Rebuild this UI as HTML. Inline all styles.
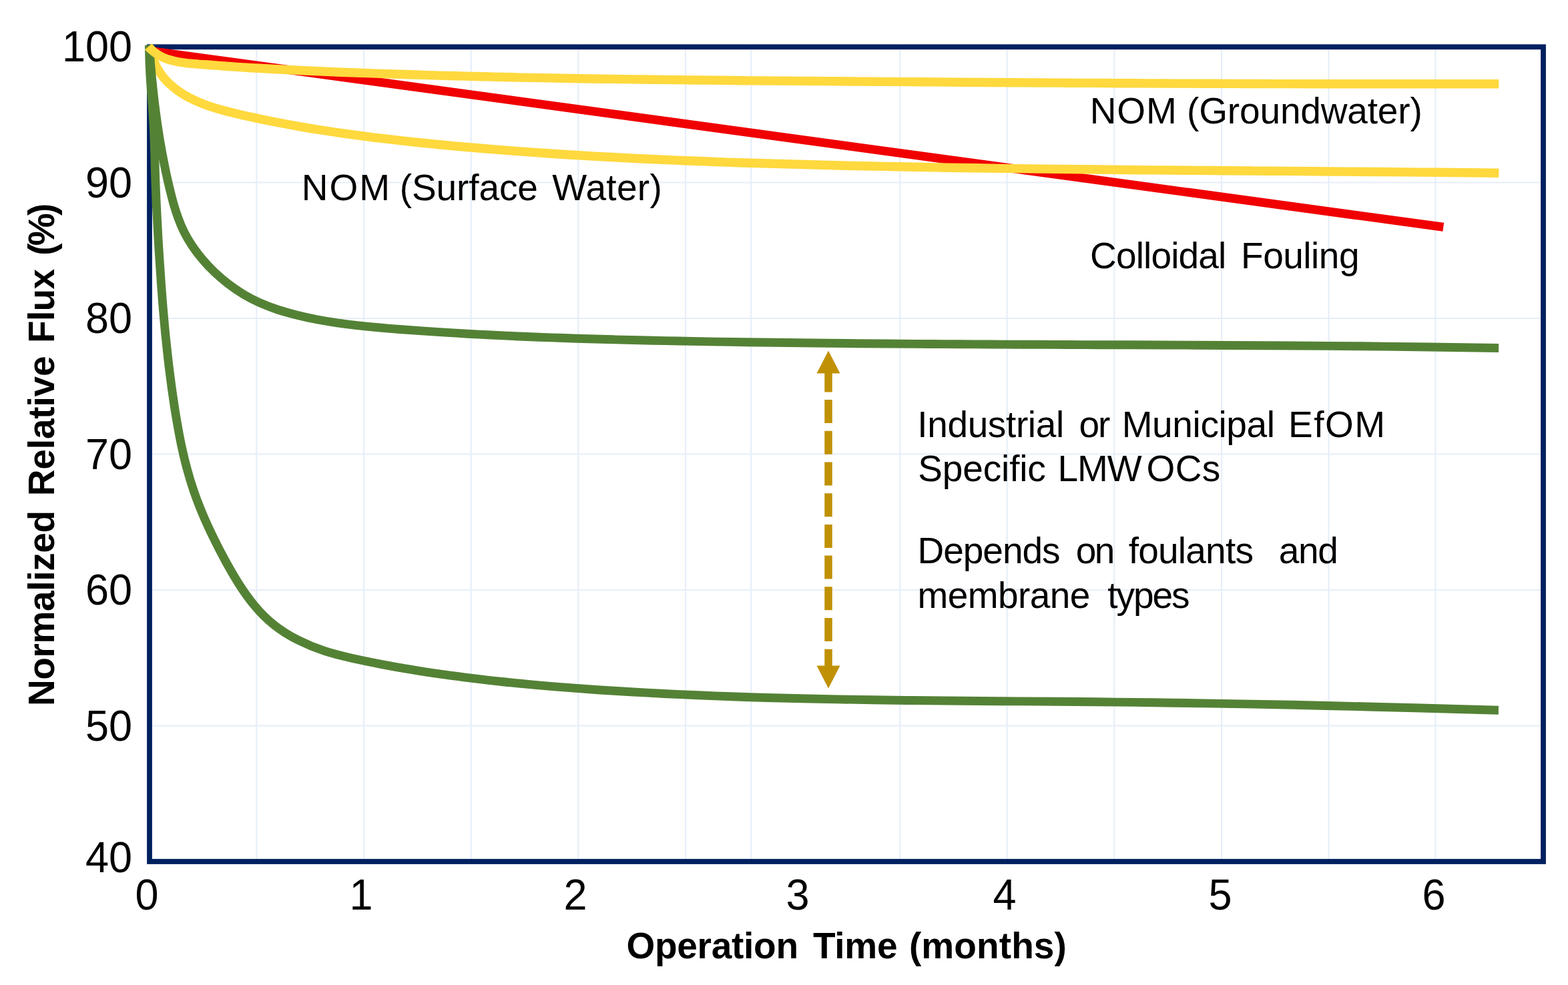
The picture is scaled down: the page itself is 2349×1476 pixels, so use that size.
<!DOCTYPE html>
<html lang="en">
<head>
<meta charset="utf-8">
<title>Normalized Relative Flux vs Operation Time</title>
<style>
html,body{margin:0;padding:0;background:#ffffff;}
body{width:2349px;height:1476px;overflow:hidden;}
svg{display:block;}
text{white-space:pre;}
</style>
</head>
<body>
<svg xmlns="http://www.w3.org/2000/svg" width="2349" height="1476" viewBox="0 0 2349 1476">
<rect width="2349" height="1476" fill="#ffffff"/>
<g stroke="#e6eef9" stroke-width="2.2" fill="none">
<line x1="384.3" y1="70" x2="384.3" y2="1291"/>
<line x1="545.0" y1="70" x2="545.0" y2="1291"/>
<line x1="705.6" y1="70" x2="705.6" y2="1291"/>
<line x1="866.3" y1="70" x2="866.3" y2="1291"/>
<line x1="1027.0" y1="70" x2="1027.0" y2="1291"/>
<line x1="1125.2" y1="70" x2="1125.2" y2="1291"/>
<line x1="1348.3" y1="70" x2="1348.3" y2="1291"/>
<line x1="1508.6" y1="70" x2="1508.6" y2="1291"/>
<line x1="1669.3" y1="70" x2="1669.3" y2="1291"/>
<line x1="1830.0" y1="70" x2="1830.0" y2="1291"/>
<line x1="1990.5" y1="70" x2="1990.5" y2="1291"/>
<line x1="2150.4" y1="70" x2="2150.4" y2="1291"/>
<line x1="224" y1="273.5" x2="2312" y2="273.5"/>
<line x1="224" y1="477.0" x2="2312" y2="477.0"/>
<line x1="224" y1="680.5" x2="2312" y2="680.5"/>
<line x1="224" y1="884.0" x2="2312" y2="884.0"/>
<line x1="224" y1="1087.5" x2="2312" y2="1087.5"/>
</g>
<rect x="224" y="70.3" width="2088" height="1220.7" fill="none" stroke="#002060" stroke-width="7.8"/>
<line x1="225.0" y1="76.3" x2="2162.3" y2="340.3" stroke="#f00000" stroke-width="13"/>
<path d="M224.6,69.4C224.7,70.2 224.9,71.0 225.0,71.7C225.3,73.3 225.6,74.9 225.9,76.4C226.4,78.5 226.9,80.6 227.5,82.7C228.3,85.3 229.1,87.8 230.1,90.2C231.1,93.1 232.4,95.9 233.7,98.6C235.2,101.7 236.9,104.7 238.8,107.6C240.8,110.8 243.1,113.8 245.5,116.7C248.1,119.9 251.0,122.9 254.0,125.7C257.3,128.7 260.8,131.6 264.4,134.3C268.2,137.1 272.2,139.7 276.2,142.2C280.6,144.8 285.0,147.1 289.5,149.3C294.3,151.6 299.1,153.7 304.1,155.6C309.2,157.7 314.5,159.5 319.9,161.2C325.4,163.0 331.1,164.6 336.8,166.1C342.7,167.7 348.7,169.1 354.7,170.5C361.0,172.0 367.2,173.4 373.5,174.8C380.0,176.2 386.5,177.6 393.0,179.0C399.8,180.4 406.5,181.7 413.3,183.0C420.3,184.4 427.3,185.7 434.3,187.0C441.5,188.3 448.7,189.6 455.9,190.8C463.4,192.1 470.8,193.3 478.3,194.5C486.0,195.7 493.7,196.9 501.4,198.0C509.3,199.2 517.2,200.3 525.1,201.4C533.2,202.5 541.3,203.6 549.4,204.6C557.8,205.7 566.1,206.7 574.5,207.7C583.0,208.7 591.6,209.7 600.1,210.7C608.9,211.6 617.6,212.6 626.4,213.5C635.3,214.4 644.3,215.3 653.3,216.2C662.4,217.1 671.6,217.9 680.7,218.8C690.1,219.6 699.5,220.4 708.8,221.2C718.4,222.1 727.9,222.9 737.5,223.6C747.2,224.4 756.9,225.2 766.7,225.9C776.6,226.7 786.5,227.4 796.5,228.1C806.6,228.9 816.7,229.5 826.8,230.2C837.1,230.9 847.4,231.6 857.7,232.2C868.2,232.8 878.7,233.5 889.1,234.1C899.8,234.7 910.5,235.3 921.1,235.8C932.0,236.4 942.8,237.0 953.6,237.5C964.7,238.0 975.7,238.5 986.7,239.0C997.9,239.5 1009.1,240.0 1020.2,240.5C1031.6,241.0 1043.0,241.4 1054.3,241.8C1065.8,242.3 1077.4,242.7 1088.9,243.1C1100.6,243.5 1112.3,243.9 1124.0,244.3C1135.9,244.6 1147.7,245.0 1159.6,245.3C1171.6,245.7 1183.6,246.0 1195.6,246.3C1207.8,246.7 1220.0,247.0 1232.2,247.3C1244.6,247.6 1256.9,247.9 1269.2,248.2C1281.8,248.5 1294.3,248.7 1306.8,249.0C1319.4,249.3 1332.1,249.5 1344.7,249.8C1357.6,250.0 1370.4,250.3 1383.2,250.5C1396.2,250.7 1409.1,251.0 1422.1,251.2C1435.2,251.4 1448.4,251.6 1461.5,251.8C1474.8,252.0 1488.0,252.2 1501.3,252.4C1514.7,252.5 1528.2,252.7 1541.6,252.9C1555.2,253.1 1568.8,253.2 1582.3,253.4C1596.1,253.5 1609.8,253.7 1623.5,253.8C1637.4,254.0 1651.3,254.1 1665.1,254.3C1679.2,254.4 1693.2,254.5 1707.2,254.7C1721.4,254.8 1735.5,254.9 1749.7,255.0C1764.0,255.2 1778.3,255.3 1792.7,255.4C1807.1,255.5 1821.6,255.6 1836.0,255.7C1850.6,255.9 1865.2,256.0 1879.8,256.1C1894.6,256.2 1909.3,256.3 1924.1,256.4C1938.9,256.5 1953.8,256.6 1968.7,256.8C1983.7,256.9 1998.8,257.0 2013.8,257.1C2028.9,257.2 2044.1,257.3 2059.3,257.5C2074.6,257.6 2089.9,257.7 2105.2,257.9C2120.6,258.0 2136.1,258.2 2151.5,258.3C2167.1,258.5 2182.7,258.6 2198.3,258.8C2214.0,258.9 2229.7,259.1 2245.4,259.3" fill="none" stroke="#ffd93d" stroke-width="13.4" stroke-linejoin="round"/>
<path d="M223.5,67.8C223.6,68.7 223.6,69.6 223.7,70.4C223.8,72.1 223.9,73.9 224.1,75.6C224.2,78.0 224.4,80.3 224.6,82.7C224.8,85.6 225.0,88.5 225.3,91.4C225.5,94.7 225.8,98.1 226.1,101.5C226.4,105.3 226.8,109.1 227.1,112.8C227.5,117.0 227.9,121.2 228.4,125.4C228.8,130.0 229.3,134.6 229.8,139.2C230.4,144.1 230.9,149.0 231.5,153.9C232.2,159.2 232.8,164.5 233.5,169.7C234.3,175.3 235.0,180.9 235.8,186.4C236.7,192.3 237.6,198.2 238.5,204.1C239.5,210.3 240.6,216.4 241.7,222.6C242.8,229.0 244.0,235.5 245.3,241.9C246.6,248.6 248.0,255.3 249.4,262.0C250.9,268.9 252.5,275.9 254.2,282.8C255.9,290.0 257.7,297.1 259.7,304.2C261.8,311.6 264.1,318.9 266.7,326.0C269.3,333.4 272.3,340.6 275.8,347.6C279.4,354.8 283.6,361.8 288.1,368.6C292.8,375.6 297.9,382.3 303.4,388.7C309.0,395.3 314.9,401.7 321.2,407.7C327.7,413.9 334.5,419.7 341.6,425.2C348.9,430.8 356.5,436.0 364.3,440.7C372.3,445.5 380.6,449.9 389.1,453.7C397.9,457.6 406.8,461.0 415.9,464.0C425.2,467.0 434.6,469.6 444.1,472.0C453.8,474.4 463.6,476.6 473.4,478.5C483.4,480.4 493.5,482.1 503.6,483.6C513.9,485.1 524.3,486.5 534.7,487.6C545.3,488.8 556.0,489.9 566.6,490.8C577.5,491.8 588.3,492.7 599.2,493.5C610.3,494.3 621.4,495.1 632.4,495.9C643.7,496.7 655.0,497.4 666.3,498.1C677.8,498.8 689.2,499.5 700.7,500.2C712.4,500.8 724.1,501.4 735.8,502.0C747.6,502.6 759.5,503.2 771.4,503.7C783.4,504.2 795.5,504.7 807.6,505.2C819.8,505.7 832.1,506.1 844.3,506.5C856.8,507.0 869.2,507.4 881.7,507.7C894.3,508.1 907.0,508.5 919.6,508.8C932.4,509.2 945.2,509.5 958.1,509.8C971.1,510.1 984.1,510.3 997.1,510.6C1010.3,510.9 1023.5,511.1 1036.7,511.4C1050.0,511.6 1063.4,511.9 1076.8,512.1C1090.3,512.3 1103.9,512.5 1117.4,512.7C1131.2,512.9 1144.9,513.1 1158.7,513.3C1172.6,513.5 1186.5,513.7 1200.4,513.8C1214.5,514.0 1228.6,514.1 1242.7,514.3C1256.9,514.4 1271.2,514.6 1285.5,514.7C1299.9,514.8 1314.3,514.9 1328.8,515.0C1343.4,515.2 1358.0,515.3 1372.6,515.4C1387.4,515.5 1402.1,515.6 1416.9,515.6C1431.9,515.7 1446.8,515.8 1461.8,515.9C1476.9,516.0 1492.0,516.0 1507.1,516.1C1522.4,516.2 1537.7,516.2 1553.0,516.3C1568.4,516.4 1583.9,516.4 1599.3,516.5C1614.9,516.6 1630.5,516.6 1646.1,516.7C1661.9,516.7 1677.7,516.8 1693.5,516.8C1709.4,516.9 1725.3,517.0 1741.3,517.0C1757.4,517.1 1773.5,517.2 1789.5,517.2C1805.8,517.3 1822.1,517.4 1838.3,517.5C1854.7,517.5 1871.1,517.6 1887.5,517.7C1904.1,517.8 1920.7,517.9 1937.2,518.0C1954.0,518.1 1970.7,518.3 1987.4,518.4C2004.3,518.5 2021.2,518.7 2038.0,518.8C2055.1,519.0 2072.1,519.2 2089.1,519.4C2106.3,519.5 2123.5,519.7 2140.6,520.0C2158.0,520.2 2175.3,520.4 2192.6,520.7C2210.1,520.9 2227.6,521.2 2245.1,521.5" fill="none" stroke="#548235" stroke-width="12.9" stroke-linejoin="round"/>
<path d="M223.7,67.8C223.7,68.8 223.7,69.9 223.7,70.9C223.7,73.0 223.7,75.1 223.7,77.1C223.7,80.0 223.7,82.8 223.8,85.7C223.9,89.2 224.0,92.6 224.1,96.1C224.3,100.2 224.5,104.2 224.7,108.2C224.9,112.8 225.2,117.4 225.5,121.9C225.8,127.0 226.2,132.0 226.5,137.0C226.9,142.5 227.4,148.0 227.8,153.5C228.2,159.4 228.7,165.3 229.1,171.3C229.5,177.6 229.9,183.9 230.3,190.2C230.6,197.0 230.9,203.7 231.1,210.4C231.4,217.5 231.6,224.6 231.8,231.7C232.0,239.2 232.1,246.7 232.3,254.2C232.6,262.0 232.8,269.8 233.1,277.6C233.4,285.8 233.8,294.0 234.1,302.1C234.5,310.6 234.9,319.1 235.4,327.6C235.8,336.5 236.3,345.3 236.8,354.1C237.4,363.2 237.9,372.4 238.5,381.5C239.1,390.9 239.7,400.4 240.4,409.8C241.0,419.6 241.7,429.3 242.5,439.0C243.2,449.1 244.0,459.1 244.9,469.1C245.8,479.4 246.7,489.7 247.7,500.0C248.8,510.6 249.9,521.2 251.1,531.7C252.3,542.6 253.6,553.4 255.0,564.2C256.4,575.4 257.9,586.4 259.6,597.5C261.2,608.9 263.0,620.2 265.0,631.5C267.0,643.1 269.1,654.7 271.5,666.2C274.0,677.9 276.7,689.6 279.8,701.2C282.9,713.1 286.5,724.8 290.5,736.4C294.5,748.2 299.1,759.8 304.0,771.4C309.0,783.1 314.4,794.7 320.0,806.2C325.7,817.9 331.7,829.5 337.9,840.9C344.3,852.5 350.9,864.0 358.0,875.3C365.3,886.7 373.1,897.8 381.8,908.2C390.6,918.8 400.3,928.5 411.1,936.8C422.0,945.4 433.9,952.7 446.4,959.1C459.1,965.5 472.4,971.0 486.0,975.4C499.8,979.9 513.8,983.3 528.0,986.5C542.3,989.6 556.6,992.6 571.0,995.3C585.7,998.1 600.3,1000.8 615.0,1003.2C629.9,1005.7 644.9,1008.0 659.9,1010.2C675.1,1012.3 690.3,1014.4 705.5,1016.2C721.0,1018.1 736.5,1019.9 752.0,1021.5C767.7,1023.2 783.5,1024.7 799.2,1026.1C815.2,1027.6 831.2,1028.9 847.1,1030.1C863.3,1031.4 879.5,1032.6 895.7,1033.7C912.2,1034.8 928.6,1035.8 945.0,1036.8C961.6,1037.7 978.3,1038.6 994.9,1039.5C1011.7,1040.3 1028.6,1041.1 1045.4,1041.8C1062.5,1042.5 1079.5,1043.2 1096.6,1043.8C1113.9,1044.4 1131.1,1045.0 1148.4,1045.5C1165.9,1046.0 1183.4,1046.4 1200.8,1046.8C1218.5,1047.2 1236.2,1047.6 1253.9,1047.9C1271.8,1048.2 1289.7,1048.5 1307.5,1048.8C1325.6,1049.1 1343.7,1049.3 1361.8,1049.5C1380.1,1049.7 1398.4,1049.9 1416.7,1050.0C1435.2,1050.2 1453.6,1050.4 1472.1,1050.5C1490.8,1050.6 1509.5,1050.8 1528.2,1050.9C1547.0,1051.0 1565.9,1051.2 1584.8,1051.3C1603.9,1051.5 1622.9,1051.6 1642.0,1051.8C1661.3,1052.0 1680.5,1052.2 1699.8,1052.4C1719.2,1052.7 1738.7,1052.9 1758.1,1053.2C1777.8,1053.5 1797.4,1053.8 1817.0,1054.1C1836.9,1054.4 1856.7,1054.8 1876.5,1055.1C1896.5,1055.5 1916.5,1055.9 1936.5,1056.3C1956.7,1056.8 1976.9,1057.2 1997.1,1057.7C2017.5,1058.2 2037.9,1058.6 2058.2,1059.2C2078.8,1059.7 2099.4,1060.2 2119.9,1060.8C2140.7,1061.3 2161.4,1061.9 2182.1,1062.5C2203.1,1063.1 2224.0,1063.7 2244.9,1064.3" fill="none" stroke="#548235" stroke-width="12.9" stroke-linejoin="round"/>
<path d="M222.2,69.9C222.7,70.5 223.3,71.1 223.8,71.6C224.9,72.8 226.1,73.9 227.2,74.9C228.8,76.4 230.4,77.7 232.1,78.9C234.1,80.4 236.2,81.7 238.4,83.0C240.9,84.4 243.5,85.7 246.1,86.8C249.1,88.0 252.1,89.1 255.3,90.0C258.7,91.0 262.2,91.8 265.8,92.5C269.7,93.3 273.7,93.8 277.7,94.3C282.0,94.8 286.4,95.3 290.7,95.6C295.4,96.0 300.1,96.4 304.8,96.7C309.8,97.1 314.7,97.5 319.7,97.8C325.0,98.2 330.2,98.6 335.5,99.0C341.0,99.3 346.5,99.7 352.0,100.1C357.8,100.4 363.5,100.8 369.3,101.2C375.3,101.5 381.3,101.9 387.4,102.3C393.6,102.6 399.9,103.0 406.2,103.3C412.7,103.7 419.2,104.0 425.7,104.3C432.4,104.7 439.1,105.0 445.9,105.3C452.8,105.7 459.8,106.0 466.7,106.3C473.9,106.6 481.1,107.0 488.3,107.3C495.7,107.6 503.1,107.9 510.5,108.2C518.1,108.5 525.7,108.8 533.3,109.0C541.1,109.3 548.9,109.6 556.8,109.9C564.8,110.2 572.8,110.5 580.9,110.7C589.1,111.0 597.3,111.3 605.6,111.5C614.0,111.8 622.4,112.1 630.9,112.3C639.5,112.6 648.1,112.8 656.8,113.1C665.6,113.3 674.4,113.6 683.3,113.8C692.3,114.0 701.3,114.3 710.3,114.5C719.5,114.7 728.7,114.9 737.9,115.1C747.3,115.4 756.7,115.6 766.1,115.8C775.7,116.0 785.3,116.2 794.9,116.4C804.6,116.6 814.4,116.8 824.2,116.9C834.1,117.1 844.0,117.3 854.0,117.5C864.1,117.6 874.2,117.8 884.3,118.0C894.6,118.1 904.9,118.3 915.2,118.4C925.7,118.6 936.2,118.7 946.6,118.9C957.3,119.0 967.9,119.1 978.6,119.3C989.4,119.4 1000.2,119.5 1011.0,119.6C1022.0,119.8 1032.9,119.9 1043.9,120.0C1055.1,120.1 1066.2,120.2 1077.4,120.3C1088.7,120.4 1100.0,120.6 1111.3,120.7C1122.8,120.8 1134.2,120.9 1145.7,121.0C1157.3,121.1 1169.0,121.2 1180.6,121.2C1192.4,121.3 1204.2,121.4 1216.0,121.5C1227.9,121.6 1239.9,121.7 1251.8,121.8C1263.9,121.9 1276.1,122.0 1288.2,122.1C1300.4,122.2 1312.7,122.3 1324.9,122.4C1337.4,122.5 1349.8,122.6 1362.2,122.6C1374.8,122.7 1387.3,122.8 1399.9,122.9C1412.6,123.0 1425.3,123.1 1438.1,123.2C1450.9,123.3 1463.8,123.4 1476.7,123.5C1489.7,123.5 1502.7,123.6 1515.7,123.7C1528.9,123.8 1542.1,123.9 1555.3,124.0C1568.6,124.0 1581.9,124.1 1595.2,124.2C1608.7,124.3 1622.1,124.4 1635.6,124.4C1649.2,124.5 1662.8,124.6 1676.4,124.7C1690.2,124.7 1703.9,124.8 1717.7,124.9C1731.6,124.9 1745.4,125.0 1759.3,125.1C1773.4,125.1 1787.4,125.2 1801.4,125.2C1815.6,125.3 1829.8,125.3 1844.0,125.4C1858.3,125.4 1872.6,125.5 1886.9,125.5C1901.4,125.6 1915.8,125.6 1930.3,125.6C1944.9,125.7 1959.5,125.7 1974.1,125.7C1988.8,125.8 2003.6,125.8 2018.3,125.8C2033.2,125.8 2048.0,125.8 2062.9,125.8C2077.9,125.8 2092.9,125.8 2107.9,125.8C2123.1,125.8 2138.2,125.8 2153.3,125.8C2168.6,125.8 2183.9,125.8 2199.2,125.8C2214.6,125.7 2230.0,125.7 2245.4,125.7" fill="none" stroke="#ffd93d" stroke-width="13.4" stroke-linejoin="round"/>
<g fill="#c09104" stroke="none">
<polygon points="1241.0,525.5 1223.5,559.5 1258.5,559.5"/>
<polygon points="1241.0,1031.5 1223.5,997.5 1258.5,997.5"/>
</g>
<line x1="1241.0" y1="552.4" x2="1241.0" y2="1000" stroke="#c09104" stroke-width="11.5" stroke-dasharray="35 11.7"/>
<g font-family="'Liberation Sans', Arial, Helvetica, sans-serif" fill="#000000">
<text transform="translate(198.0,92.3) scale(1,1.040)" font-size="63" text-anchor="end">100</text>
<text transform="translate(198.0,295.8) scale(1,1.040)" font-size="63" text-anchor="end">90</text>
<text transform="translate(198.0,499.3) scale(1,1.040)" font-size="63" text-anchor="end">80</text>
<text transform="translate(198.0,702.8) scale(1,1.040)" font-size="63" text-anchor="end">70</text>
<text transform="translate(198.0,906.3) scale(1,1.040)" font-size="63" text-anchor="end">60</text>
<text transform="translate(198.0,1109.8) scale(1,1.040)" font-size="63" text-anchor="end">50</text>
<text transform="translate(198.0,1307.0) scale(1,1.040)" font-size="63" text-anchor="end">40</text>
<text transform="translate(220.0,1362.5) scale(1,1.040)" font-size="63" text-anchor="middle">0</text>
<text transform="translate(541.0,1362.5) scale(1,1.040)" font-size="63" text-anchor="middle">1</text>
<text transform="translate(862.0,1362.5) scale(1,1.040)" font-size="63" text-anchor="middle">2</text>
<text transform="translate(1195.0,1362.5) scale(1,1.040)" font-size="63" text-anchor="middle">3</text>
<text transform="translate(1505.0,1362.5) scale(1,1.040)" font-size="63" text-anchor="middle">4</text>
<text transform="translate(1828.0,1362.5) scale(1,1.040)" font-size="63" text-anchor="middle">5</text>
<text transform="translate(2148.0,1362.5) scale(1,1.040)" font-size="63" text-anchor="middle">6</text>
<text y="1435.8" font-size="55" font-weight="bold"><tspan x="938.4" letter-spacing="-0.27">Operation</tspan> <tspan x="1217.9" letter-spacing="-0.23">Time</tspan> <tspan x="1361.9" letter-spacing="0.11">(months)</tspan></text>
<g transform="translate(81.3,1060.0) rotate(-90)">
<text y="0.0" font-size="55" font-weight="bold"><tspan x="1.9" letter-spacing="-0.36">Normalized</tspan> <tspan x="316.8" letter-spacing="-0.17">Relative</tspan> <tspan x="546.1" letter-spacing="-0.69">Flux</tspan> <tspan x="677.2" letter-spacing="-3.68">(%)</tspan></text>
</g>
<text y="185.0" font-size="55"><tspan x="1632.8" letter-spacing="0.85">NOM</tspan> <tspan x="1778.1" letter-spacing="-0.16">(Groundwater)</tspan></text>
<text y="299.5" font-size="55"><tspan x="451.7" letter-spacing="2.00">NOM</tspan> <tspan x="598.7" letter-spacing="-0.09">(Surface</tspan> <tspan x="827.2" letter-spacing="0.32">Water)</tspan></text>
<text y="402.3" font-size="55"><tspan x="1633.1" letter-spacing="-0.86">Colloidal</tspan> <tspan x="1859.0" letter-spacing="-0.47">Fouling</tspan></text>
<text y="655.0" font-size="55"><tspan x="1374.3" letter-spacing="-0.37">Industrial</tspan> <tspan x="1616.5" letter-spacing="-1.98">or</tspan> <tspan x="1680.7" letter-spacing="-0.38">Municipal</tspan> <tspan x="1930.1" letter-spacing="1.45">EfOM</tspan></text>
<text y="720.5" font-size="55"><tspan x="1375.3" letter-spacing="-0.15">Specific</tspan> <tspan x="1584.4" letter-spacing="-1.01">LMW</tspan> <tspan x="1717.6" letter-spacing="0.30">OCs</tspan></text>
<text y="843.8" font-size="55"><tspan x="1374.6" letter-spacing="-1.05">Depends</tspan> <tspan x="1611.7" letter-spacing="-2.41">on</tspan> <tspan x="1690.7" letter-spacing="-0.77">foulants</tspan> <tspan x="1915.7" letter-spacing="-1.29">and</tspan></text>
<text y="910.5" font-size="55"><tspan x="1374.4" letter-spacing="-0.56">membrane</tspan> <tspan x="1659.3" letter-spacing="-2.06">types</tspan></text>
</g>
</svg>
</body>
</html>
